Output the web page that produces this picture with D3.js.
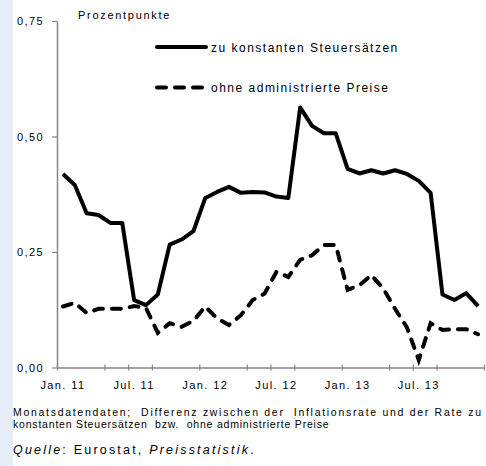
<!DOCTYPE html>
<html>
<head>
<meta charset="utf-8">
<script src="https://cdn.jsdelivr.net/npm/d3@7"></script>
<style>
  body { margin: 0; background: #fff; }
  text { font-family: "Liberation Sans", Arial, sans-serif; fill: #000; }
</style>
</head>
<body>
<div id="chart"></div>
<script>
// monthly categories Jan 2011 .. Dec 2013
var months = ["2011-01","2011-02","2011-03","2011-04","2011-05","2011-06","2011-07","2011-08","2011-09","2011-10","2011-11","2011-12",
              "2012-01","2012-02","2012-03","2012-04","2012-05","2012-06","2012-07","2012-08","2012-09","2012-10","2012-11","2012-12",
              "2013-01","2013-02","2013-03","2013-04","2013-05","2013-06","2013-07","2013-08","2013-09","2013-10","2013-11","2013-12"];

var konstSteuer = [0.419, 0.395, 0.334, 0.330, 0.313, 0.313, 0.146, 0.135, 0.158, 0.266, 0.277, 0.295,
                   0.367, 0.380, 0.391, 0.378, 0.380, 0.379, 0.370, 0.367, 0.563, 0.523, 0.507, 0.507,
                   0.430, 0.420, 0.427, 0.420, 0.427, 0.419, 0.404, 0.378, 0.158, 0.146, 0.161, 0.133];

var ohneAdmin = [0.132, 0.140, 0.118, 0.127, 0.127, 0.127, 0.133, 0.129, 0.075, 0.096, 0.088, 0.101,
                 0.132, 0.106, 0.092, 0.113, 0.146, 0.160, 0.207, 0.196, 0.233, 0.243, 0.265, 0.265,
                 0.168, 0.178, 0.200, 0.171, 0.127, 0.087, 0.016, 0.096, 0.081, 0.083, 0.083, 0.072];

var yTicks = [0, 0.25, 0.5, 0.75];
var xTickMarks = [0, 4, 6, 8, 12, 16, 18, 20, 24, 28, 30, 32, 36];
var xLabelIdx = [0, 6, 12, 18, 24, 30];
var xLabels = ["Jan. 11", "Jul. 11", "Jan. 12", "Jul. 12", "Jan. 13", "Jul. 13"];

var width = 486, height = 466;
var plotLeft = 57, plotRight = 484, plotTop = 21, plotBottom = 367.5;

var svg = d3.select("#chart").append("svg")
    .attr("width", width)
    .attr("height", height);

svg.append("rect")
    .attr("x", 0).attr("y", 0)
    .attr("width", 13).attr("height", height)
    .attr("fill", "#e5edf6");

var x = d3.scaleLinear().domain([0, months.length]).range([plotLeft, plotRight]);
var y = d3.scaleLinear().domain([0, 0.75]).range([plotBottom, plotTop]);

var de = d3.formatLocale({decimal: ",", thousands: ".", grouping: [3], currency: ["", " €"]});

// y axis
var yAxis = d3.axisLeft(y)
    .tickValues(yTicks)
    .tickSize(5)
    .tickSizeOuter(0)
    .tickPadding(8)
    .tickFormat(de.format(".2f"));

var gy = svg.append("g")
    .attr("transform", "translate(" + plotLeft + ",0)")
    .call(yAxis);
gy.select(".domain").attr("stroke", "#868686").attr("stroke-width", 1.5);
gy.selectAll(".tick line").attr("stroke", "#868686").attr("stroke-width", 1.2);
gy.selectAll(".tick text")
    .style("font-size", "11px")
    .style("letter-spacing", "1.4px")
    .attr("fill", "#000");

// x axis: tick marks crossing the axis line
var xAxis = d3.axisBottom(x)
    .tickValues(xTickMarks)
    .tickSize(3)
    .tickSizeOuter(0)
    .tickFormat("");

var gx = svg.append("g")
    .attr("transform", "translate(0," + plotBottom + ")")
    .call(xAxis);
gx.select(".domain").attr("stroke", "#868686").attr("stroke-width", 1.5);
gx.selectAll(".tick line").attr("y1", -3).attr("stroke", "#868686").attr("stroke-width", 1.2);

svg.append("g").selectAll("text")
    .data(xLabelIdx)
  .enter().append("text")
    .attr("x", function(d) { return x(d + 0.5); })
    .attr("y", 388.5)
    .attr("text-anchor", "middle")
    .style("font-size", "11px")
    .style("letter-spacing", "1.4px")
    .text(function(d, i) { return xLabels[i]; });

// lines
var line = d3.line()
    .x(function(d, i) { return x(i + 0.5); })
    .y(function(d) { return y(d); });

svg.append("path")
    .datum(konstSteuer)
    .attr("fill", "none")
    .attr("stroke", "#000")
    .attr("stroke-width", 4)
    .attr("stroke-linejoin", "round")
    .attr("d", line);

svg.append("path")
    .datum(ohneAdmin)
    .attr("fill", "none")
    .attr("stroke", "#000")
    .attr("stroke-width", 4)
    .attr("stroke-linecap", "round")
    .attr("stroke-dasharray", "9,9")
    .attr("d", line);

// unit label
svg.append("text")
    .attr("x", 78).attr("y", 19)
    .style("font-size", "11px")
    .style("letter-spacing", "1.7px")
    .text("Prozentpunkte");

// legend
var legend = [
  {label: "zu konstanten Steuersätzen", y: 47, dash: null},
  {label: "ohne administrierte Preise", y: 87.5, dash: "9,9"}
];
var lg = svg.append("g").selectAll("g")
    .data(legend)
  .enter().append("g");
lg.append("line")
    .attr("x1", 157).attr("x2", 206)
    .attr("y1", function(d) { return d.y; })
    .attr("y2", function(d) { return d.y; })
    .attr("stroke", "#000")
    .attr("stroke-width", 4)
    .attr("stroke-linecap", "round")
    .attr("stroke-dasharray", function(d) { return d.dash; });
lg.append("text")
    .attr("x", 211)
    .attr("y", function(d) { return d.y + 4.5; })
    .style("font-size", "12px")
    .style("letter-spacing", "1.5px")
    .text(function(d) { return d.label; });

// notes (first line justified to the full width)
svg.append("text")
    .attr("x", 13).attr("y", 415.5)
    .attr("textLength", 468)
    .attr("lengthAdjust", "spacing")
    .style("font-size", "10.5px")
    .style("white-space", "pre")
    .text("Monatsdatendaten;  Differenz zwischen der  Inflationsrate und der Rate zu");
svg.append("text")
    .attr("x", 13).attr("y", 427.5)
    .style("font-size", "10.5px")
    .style("letter-spacing", "0.8px")
    .style("white-space", "pre")
    .text("konstanten Steuersätzen  bzw.  ohne administrierte Preise");

var src = svg.append("text")
    .attr("x", 13).attr("y", 454)
    .style("font-size", "12.5px")
    .style("letter-spacing", "2.2px");
src.append("tspan").style("font-style", "italic").text("Quelle");
src.append("tspan").text(": Eurostat, ");
src.append("tspan").style("font-style", "italic").text("Preisstatistik");
src.append("tspan").text(".");
</script>
</body>
</html>
